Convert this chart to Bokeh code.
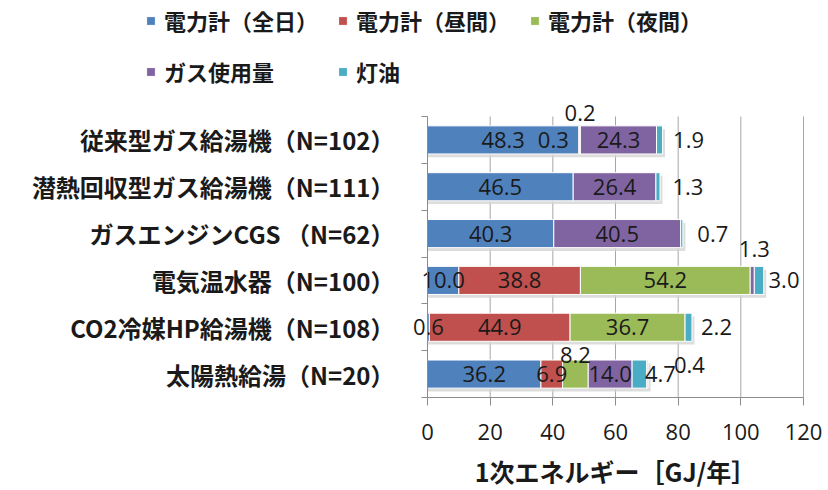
from bokeh.plotting import figure
from bokeh.models import Range1d, FixedTicker, ColumnDataSource, Legend, LegendItem, Label
from bokeh.core.properties import value
from bokeh.embed import file_html
from bokeh.resources import INLINE

# ---------------- data ----------------
categories = [
    "従来型ガス給湯機（N=102）",
    "潜熱回収型ガス給湯機（N=111）",
    "ガスエンジンCGS （N=62）",
    "電気温水器（N=100）",
    "CO2冷媒HP給湯機（N=108）",
    "太陽熱給湯（N=20）",
]
series_names = ["電力計（全日）", "電力計（昼間）", "電力計（夜間）", "ガス使用量", "灯油"]
den_all = [48.3, 46.5, 40.3, 10.0, 0.6, 36.2]
den_day = [0.3, None, None, 38.8, 44.9, 6.9]
den_night = [0.2, None, None, 54.2, 36.7, 8.2]
gas = [24.3, 26.4, 40.5, 1.3, None, 14.0]
kerosene = [1.9, 1.3, 0.7, 3.0, 2.2, 4.7]
other = [None, None, None, None, None, 0.4]
x_ticks = [0, 20, 40, 60, 80, 100, 120]
x_title = "1次エネルギー［GJ/年］"

# ---------------- styles / geometry ----------------
colors = ["#4F81BD", "#C0504D", "#9BBB59", "#8064A2", "#4BACC6", "#F2C9A8"]
# label nudges in screen pixels: (series index, row index) -> (dx, dy)
nudges = {
    (1, 0): (-26, 0), (2, 0): (0, -27), (4, 0): (29, 0),
    (4, 1): (30, 0), (4, 2): (31, 0),
    (3, 3): (2, -31), (4, 3): (25, 0),
    (4, 4): (28, 0),
    (2, 5): (0, -19), (4, 5): (21, 0), (5, 5): (42, -9),
}
CJK = "Noto Sans CJK JP"
NUM = "Open Sans"
W, H = 826, 488
X0_PX, X120_PX = 427, 803          # where 0 and 120 sit on the canvas
TOP_PX, BOT_PX = 116, 397          # top/bottom of the category band
px_per_x = (X120_PX - X0_PX) / 120.0
n = len(categories)
px_per_y = (BOT_PX - TOP_PX) / n

all_series = [den_all, den_day, den_night, gas, kerosene, other]
ypos = [n - i - 0.5 for i in range(n)]  # first category on top

p = figure(
    width=W, height=H,
    x_range=Range1d(-X0_PX / px_per_x, 120 + (W - X120_PX) / px_per_x),
    y_range=Range1d(-(H - BOT_PX) / px_per_y, n + TOP_PX / px_per_y),
    output_backend="svg", toolbar_location=None,
    min_border_left=0, min_border_right=0, min_border_top=0, min_border_bottom=0,
)
p.outline_line_color = None
p.xgrid.grid_line_color = None
p.ygrid.grid_line_color = None

# gridlines from the tick values
p.segment(x0=x_ticks[1:], y0=[0] * (len(x_ticks) - 1), x1=x_ticks[1:], y1=[n] * (len(x_ticks) - 1),
          line_color="#a6a6a6", line_width=1)

totals = [0.0] * n
stacks = []
lab_x, lab_y, lab_t, lab_dx, lab_dy = [], [], [], [], []
for si, ser in enumerate(all_series):
    ys, ls, rs = [], [], []
    for ri, v in enumerate(ser):
        if v is None:
            continue
        ys.append(ypos[ri]); ls.append(totals[ri]); rs.append(totals[ri] + v)
        lab_x.append(totals[ri] + v / 2.0); lab_y.append(ypos[ri]); lab_t.append(f"{v:.1f}")
        dx, dy = nudges.get((si, ri), (0, 0))
        lab_dx.append(dx); lab_dy.append(dy)
        totals[ri] += v
    stacks.append(dict(y=ys, left=ls, right=rs))

# soft shadow under each bar
p.hbar(y=[y - 0.07 for y in ypos], left=[0.0] * n, right=[t + 0.8 for t in totals], height=0.6,
       fill_color="#d4d4d4", fill_alpha=0.8, line_color=None)

renderers = []
for si, st in enumerate(stacks):
    r = p.hbar(y="y", left="left", right="right", height=0.6, source=ColumnDataSource(st),
               fill_color=colors[si], line_color="white", line_width=1)
    renderers.append(r)

lab_src = ColumnDataSource(dict(x=lab_x, y=lab_y, t=lab_t, dx=lab_dx, dy=lab_dy))
p.text(x="x", y="y", text="t", x_offset="dx", y_offset="dy", source=lab_src,
       text_font=value(NUM), text_font_size="22px", text_color="#1a1a1a",
       text_align="center", text_baseline="middle")

# x axis pinned at y = 0
p.xaxis.fixed_location = 0
p.xaxis.ticker = FixedTicker(ticks=x_ticks)
p.xaxis.bounds = (x_ticks[0], x_ticks[-1])
p.xaxis.axis_line_color = "#8c8c8c"
p.xaxis.major_tick_line_color = "#8c8c8c"
p.xaxis.major_tick_out = 8
p.xaxis.major_tick_in = 0
p.xaxis.minor_tick_line_color = None
p.xaxis.major_label_text_font = NUM
p.xaxis.major_label_text_font_size = "22px"
p.xaxis.major_label_text_color = "#1a1a1a"
p.xaxis.major_label_standoff = 18

p.add_layout(Label(x=(x_ticks[0] + x_ticks[-1]) / 2.0, y=0, text=x_title, y_offset=-73,
                   text_align="center", text_baseline="middle", text_font=CJK,
                   text_font_size="25px", text_font_style="bold", text_color="#1a1a1a"))

# y axis (category axis) pinned at x = 0; small ticks at category boundaries
p.yaxis.fixed_location = 0
p.yaxis.ticker = FixedTicker(ticks=ypos, minor_ticks=list(range(n + 1)))
p.yaxis.major_label_overrides = {ypos[i]: categories[i] for i in range(n)}
p.yaxis.bounds = (0, n)
p.yaxis.axis_line_color = "#8c8c8c"
p.yaxis.major_tick_line_color = None
p.yaxis.major_tick_out = 0
p.yaxis.major_tick_in = 0
p.yaxis.minor_tick_line_color = "#8c8c8c"
p.yaxis.minor_tick_out = 6
p.yaxis.minor_tick_in = 0
p.yaxis.major_label_standoff = 27
p.yaxis.major_label_text_font = CJK
p.yaxis.major_label_text_font_size = "24px"
p.yaxis.major_label_text_font_style = "bold"
p.yaxis.major_label_text_color = "#1a1a1a"

legend = Legend(
    items=[LegendItem(label=series_names[i], renderers=[renderers[i]]) for i in range(5)],
    location=(145, H - 87), orientation="horizontal", ncols=3,
    glyph_width=11, glyph_height=11, label_standoff=8, spacing=19, label_height=31,
    padding=0, margin=0, border_line_color=None, background_fill_alpha=0,
    label_text_font=CJK, label_text_font_size="22px", label_text_font_style="bold",
    label_text_color="#1a1a1a",
)
p.add_layout(legend, "center")

open("out.html", "w").write(file_html(p, INLINE))
